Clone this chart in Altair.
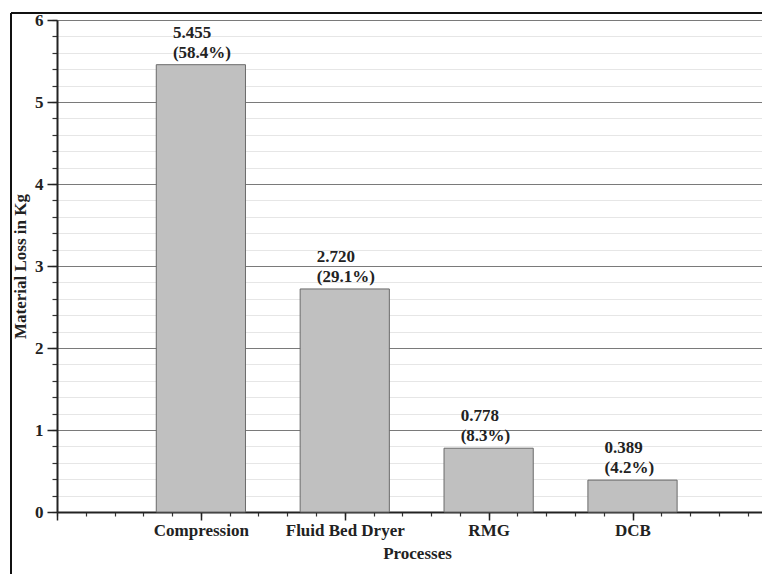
import altair as alt
import pandas as pd

processes = ["Compression", "Fluid Bed Dryer", "RMG", "DCB"]
positions = [1, 2, 3, 4]
losses = [5.455, 2.720, 0.778, 0.389]
value_labels = ["5.455", "2.720", "0.778", "0.389"]
share_labels = ["(58.4%)", "(29.1%)", "(8.3%)", "(4.2%)"]

y_major = [0, 1, 2, 3, 4, 5, 6]
y_minor = [round(i * 0.2, 1) for i in range(31)]
x_major = [0, 1, 2, 3, 4]
x_minor = [round(i * 0.2, 1) for i in range(25)]

FONT = "Liberation Serif"
FS = 17
W, H = 705, 492

df = pd.DataFrame({
    "process": processes,
    "pos": positions,
    "loss": losses,
    "label": [v + "\n" + s for v, s in zip(value_labels, share_labels)],
})

xscale = alt.Scale(domain=[0, 4.9], nice=False, zero=False)
yscale = alt.Scale(domain=[0, 6], nice=False)

label_expr = "[''," + ",".join("'" + p + "'" for p in processes) + "][datum.value] || ''"

base = alt.Chart(df)

bars = base.transform_calculate(
    lo="datum.pos - 0.31", hi="datum.pos + 0.31"
).mark_bar(fill="#c0c0c0", stroke="#6a6a6a", strokeWidth=1).encode(
    x=alt.X("lo:Q", scale=xscale, axis=alt.Axis(
        values=x_minor, orient="bottom", grid=False, labels=False, domain=False,
        tickSize=4, tickColor="#333", tickWidth=1.2, title=None)),
    x2="hi:Q",
    y=alt.Y("loss:Q", scale=yscale, axis=alt.Axis(
        values=y_minor, orient="left", grid=True, gridColor="#e6e6e6", gridWidth=1,
        labels=False, domain=False, tickSize=5, tickColor="#333", tickWidth=1.2, title=None)),
    y2=alt.datum(0),
)

text = base.mark_text(
    font=FONT, fontSize=FS, fontWeight="bold", align="left", baseline="bottom",
    dx=-28, dy=-23, lineBreak="\n", lineHeight=20, color="#222",
).encode(
    x=alt.X("pos:Q", scale=xscale, axis=alt.Axis(
        values=x_major, orient="bottom", grid=False, labelExpr=label_expr,
        labelFont=FONT, labelFontSize=FS, labelFontWeight="bold", labelColor="#222",
        labelPadding=2, tickSize=8, tickColor="#222", tickWidth=1.5,
        domain=True, domainColor="#222", domainWidth=2,
        title="Processes", titleFont=FONT, titleFontSize=FS, titleFontWeight="bold",
        titleColor="#222", titleX=360, titleY=41, titleBaseline="middle", titleAlign="center")),
    y=alt.Y("loss:Q", scale=yscale, axis=alt.Axis(
        values=y_major, orient="left", grid=True, gridColor="#7a7a7a", gridWidth=1,
        labelFont=FONT, labelFontSize=FS, labelFontWeight="bold", labelColor="#222",
        labelPadding=4, tickSize=10, tickColor="#222", tickWidth=1.5,
        domain=True, domainColor="#222", domainWidth=2,
        title="Material Loss in Kg", titleFont=FONT, titleFontSize=FS, titleFontWeight="bold",
        titleColor="#222", titleX=-37, titleY=246, titleAngle=270,
        titleBaseline="middle", titleAlign="center")),
    text="label:N",
)

frame_src = alt.Chart(alt.Data(values=[{"f": 1}]))
frame_top = frame_src.mark_rule(color="#111", strokeWidth=2).encode(
    x=alt.value(-46), x2=alt.value(W), y=alt.value(-7))
frame_left = frame_src.mark_rule(color="#111", strokeWidth=2).encode(
    x=alt.value(-46), y=alt.value(-7), y2=alt.value(560))

chart = alt.layer(bars, text, frame_top, frame_left).resolve_axis(
    x="independent", y="independent"
).properties(
    width=W, height=H,
    padding={"left": 49, "top": 12, "right": 0, "bottom": 62},
    autosize=alt.AutoSizeParams(type="none"),
).configure_view(stroke=None)

chart.save("out.html", embed_options={"renderer": "svg", "actions": False})
